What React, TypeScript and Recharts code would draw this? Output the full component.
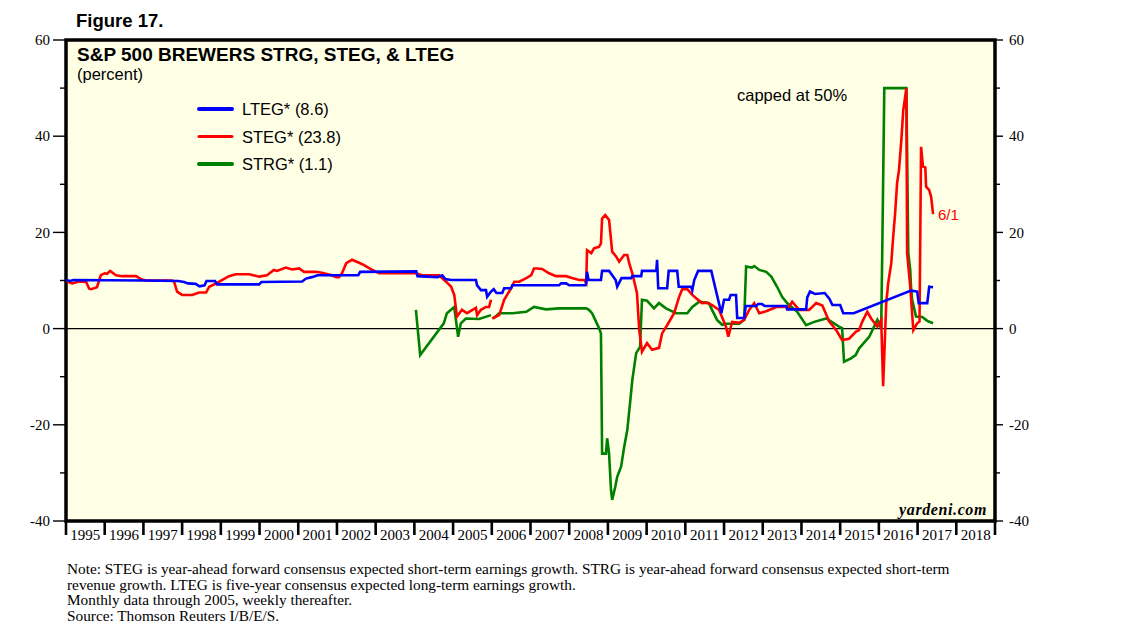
import React from 'react';
import { LineChart, Line, XAxis, YAxis, ReferenceLine, ReferenceArea, CartesianGrid, Legend } from 'recharts';

const W = 1138;
const H = 638;
const PLOT_LEFT = 66;
const PLOT_RIGHT = 995;
const PLOT_TOP = 40;
const PLOT_BOTTOM = 521;
const HALF_YEAR = (PLOT_RIGHT - PLOT_LEFT) / 24 / 2;

const SANS = '"Liberation Sans", Arial, Helvetica, sans-serif';
const SERIF = '"Liberation Serif", "Times New Roman", serif';

const yearTicks = [1995, 1996, 1997, 1998, 1999, 2000, 2001, 2002, 2003, 2004, 2005, 2006, 2007, 2008, 2009, 2010, 2011, 2012, 2013, 2014, 2015, 2016, 2017, 2018, 2019];
const valueTicks = [-40, -30, -20, -10, 0, 10, 20, 30, 40, 50, 60];
const labeledValues = [-40, -20, 0, 20, 40, 60];

type Pt = [number, number | null];

const LTEG: Pt[] = [
  [1995.0, 10.1], [1995.1, 9.9], [1995.2, 10.1], [1997.0, 10.0], [1997.9, 9.9], [1998.05, 9.7], [1998.15, 9.4],
  [1998.35, 9.3], [1998.45, 8.8], [1998.58, 9.0], [1998.63, 9.9], [1998.85, 9.9], [1998.9, 9.2], [1999.99, 9.2],
  [2000.05, 9.7], [2001.1, 9.8], [2001.2, 10.4], [2001.35, 10.7], [2001.5, 11.1], [2002.55, 11.1], [2002.6, 11.8],
  [2004.05, 11.9], [2004.08, 10.9], [2004.6, 10.7], [2004.72, 11.1], [2004.8, 10.3], [2004.95, 10.1], [2005.59, 10.1],
  [2005.62, 9.0], [2005.72, 8.0], [2005.85, 8.0], [2005.88, 6.6], [2005.98, 7.7], [2006.05, 8.2], [2006.12, 7.4],
  [2006.27, 7.4], [2006.32, 8.4], [2006.5, 8.4], [2006.53, 9.0], [2007.74, 9.0], [2007.79, 9.4], [2007.92, 9.4],
  [2008.0, 9.0], [2008.42, 9.0], [2008.44, 9.5], [2008.46, 11.8], [2008.5, 10.1], [2008.82, 10.1], [2008.85, 12.0],
  [2009.03, 12.0], [2009.2, 10.1], [2009.24, 8.7], [2009.35, 10.5], [2009.6, 10.5], [2009.63, 10.9], [2009.86, 10.9],
  [2009.88, 12.0], [2010.25, 12.0], [2010.27, 14.3], [2010.3, 8.4], [2010.53, 8.4], [2010.57, 12.0], [2010.79, 12.0],
  [2010.83, 8.7], [2011.15, 8.7], [2011.18, 8.0], [2011.23, 10.1], [2011.33, 12.0], [2011.67, 12.0], [2011.93, 3.2],
  [2012.0, 6.0], [2012.13, 6.0], [2012.17, 7.0], [2012.31, 7.0], [2012.34, 2.2], [2012.52, 2.2], [2012.56, 4.7],
  [2012.83, 4.7], [2012.88, 5.1], [2012.98, 5.1], [2013.05, 4.7], [2013.61, 4.7], [2013.63, 4.0], [2014.12, 4.0],
  [2014.15, 6.5], [2014.22, 7.7], [2014.35, 7.2], [2014.6, 7.4], [2014.72, 6.2], [2014.8, 4.9], [2015.0, 4.9],
  [2015.08, 3.2], [2015.35, 3.2], [2016.83, 7.9], [2016.99, 7.7], [2017.03, 5.3], [2017.25, 5.3], [2017.3, 8.7],
  [2017.4, 8.6],
];

const STEG: Pt[] = [
  [1995.0, 10.1], [1995.08, 9.6], [1995.16, 9.4], [1995.34, 9.8], [1995.52, 9.7], [1995.6, 8.3], [1995.65, 8.2],
  [1995.8, 8.6], [1995.9, 11.1], [1996.0, 11.5], [1996.06, 11.4], [1996.14, 12.0], [1996.29, 11.1], [1996.45, 10.9],
  [1996.81, 10.9], [1996.96, 10.2], [1997.07, 10.0], [1997.74, 10.0], [1997.79, 9.8], [1997.87, 7.7], [1998.0, 7.0],
  [1998.26, 7.0], [1998.44, 7.5], [1998.62, 7.5], [1998.7, 8.7], [1998.88, 9.4], [1999.03, 10.1], [1999.21, 10.9],
  [1999.39, 11.3], [1999.73, 11.3], [1999.99, 10.8], [2000.19, 11.1], [2000.37, 12.2], [2000.45, 12.0], [2000.68, 12.7],
  [2000.84, 12.3], [2001.02, 12.5], [2001.15, 11.8], [2001.46, 11.8], [2001.61, 11.6], [2001.87, 11.1], [2001.98, 10.7],
  [2002.05, 10.7], [2002.13, 11.5], [2002.24, 13.6], [2002.39, 14.3], [2002.57, 13.7], [2002.7, 13.2], [2002.91, 12.2],
  [2003.09, 11.5], [2003.6, 11.5], [2004.04, 11.5], [2004.2, 11.1], [2004.64, 11.1], [2004.82, 9.75], [2004.95, 8.7],
  [2005.03, 7.0], [2005.1, 2.5], [2005.23, 3.9], [2005.36, 3.2], [2005.59, 4.3], [2005.62, 2.8], [2005.72, 3.9],
  [2005.85, 4.5], [2005.93, 4.5], [2005.98, 6.0], [2005.995, null], [2006.01, 2.1], [2006.19, 2.8], [2006.32, 6.0],
  [2006.5, 8.4], [2006.58, 9.75], [2006.71, 9.75], [2006.89, 10.5], [2007.02, 11.1], [2007.09, 12.5], [2007.17, 12.5],
  [2007.3, 12.4], [2007.48, 11.5], [2007.66, 10.9], [2007.92, 10.9], [2008.07, 10.5], [2008.26, 10.1], [2008.39, 10.1],
  [2008.44, 9.5], [2008.46, 16.3], [2008.57, 15.7], [2008.64, 16.7], [2008.77, 17.0], [2008.82, 17.7], [2008.85, 22.9],
  [2008.93, 23.6], [2009.03, 22.6], [2009.11, 16.0], [2009.21, 15.0], [2009.29, 13.9], [2009.42, 15.3], [2009.5, 15.3],
  [2009.55, 13.6], [2009.63, 11.5], [2009.75, 7.4], [2009.81, -0.3], [2009.88, -4.8], [2010.01, -3.0], [2010.14, -4.4],
  [2010.32, -4.0], [2010.4, -1.0], [2010.53, 0.7], [2010.71, 3.2], [2010.84, 6.6], [2010.92, 8.2], [2011.05, 8.2],
  [2011.18, 7.0], [2011.28, 6.3], [2011.43, 5.3], [2011.56, 5.4], [2011.69, 4.9], [2011.87, 3.9], [2012.05, 0.4],
  [2012.11, -1.7], [2012.21, 1.4], [2012.39, 1.2], [2012.52, 1.8], [2012.65, 3.9], [2012.78, 5.3], [2012.91, 3.2],
  [2013.09, 3.6], [2013.35, 4.5], [2013.68, 4.5], [2013.76, 5.6], [2013.94, 3.9], [2014.2, 3.9], [2014.38, 5.3],
  [2014.54, 4.8], [2014.72, 1.4], [2014.79, 0.8], [2014.92, -0.6], [2015.05, -2.4], [2015.23, -2.1], [2015.41, -0.6],
  [2015.49, -0.3], [2015.57, 1.4], [2015.7, 3.5], [2015.8, 2.1], [2015.96, 0.4], [2016.06, 1.8], [2016.11, -12.0],
  [2016.19, 5.3], [2016.24, 9.4], [2016.32, 13.6], [2016.37, 19.1], [2016.42, 24.0], [2016.47, 30.2], [2016.52, 33.0],
  [2016.58, 39.2], [2016.63, 45.4], [2016.68, 48.2], [2016.71, 50.0], [2016.73, 15.7], [2016.81, 8.7], [2016.89, -0.3],
  [2016.99, 1.1], [2017.05, 1.5], [2017.09, 37.8], [2017.14, 33.7], [2017.2, 33.5], [2017.22, 29.5], [2017.3, 28.8],
  [2017.35, 27.4], [2017.4, 23.8],
];

const STRG: Pt[] = [
  [2004.04, 3.9], [2004.15, -5.5], [2004.76, 1.1], [2004.84, 3.2], [2005.03, 4.5], [2005.13, -1.7], [2005.2, 1.1],
  [2005.33, 2.1], [2005.67, 2.0], [2005.98, 2.8], [2005.995, null], [2006.04, 2.1], [2006.19, 3.2], [2006.53, 3.2],
  [2006.89, 3.5], [2007.09, 4.5], [2007.4, 4.0], [2007.74, 4.2], [2008.44, 4.2], [2008.51, 3.9], [2008.59, 3.2],
  [2008.77, 0.1], [2008.82, -1.0], [2008.85, -26.0], [2008.95, -26.0], [2008.98, -22.8], [2009.03, -26.0],
  [2009.08, -33.6], [2009.11, -35.6], [2009.19, -32.9], [2009.24, -30.8], [2009.34, -28.7], [2009.42, -24.6],
  [2009.5, -21.1], [2009.58, -14.8], [2009.63, -10.7], [2009.73, -5.1], [2009.83, -3.8], [2009.88, 6.0], [2010.01, 5.8],
  [2010.19, 4.2], [2010.32, 5.3], [2010.5, 4.2], [2010.58, 3.9], [2010.76, 3.2], [2011.05, 3.2], [2011.18, 4.5],
  [2011.36, 5.6], [2011.61, 5.3], [2011.69, 3.9], [2011.82, 1.8], [2011.95, 0.8], [2012.05, 1.0], [2012.39, 1.0],
  [2012.52, 1.8], [2012.57, 12.9], [2012.72, 12.7], [2012.78, 13.0], [2012.91, 12.2], [2013.09, 11.8], [2013.22, 10.8],
  [2013.37, 8.7], [2013.5, 6.6], [2013.63, 5.3], [2013.89, 3.5], [2014.12, 0.7], [2014.33, 1.4], [2014.64, 2.1],
  [2014.97, 0.4], [2015.05, 0.1], [2015.1, -6.9], [2015.28, -6.2], [2015.4, -5.5], [2015.49, -4.1], [2015.75, -1.7],
  [2015.96, 1.8], [2016.06, 0.0], [2016.09, 17.7], [2016.14, 50.0], [2016.71, 50.0], [2016.76, 15.7], [2016.81, 12.2],
  [2016.83, 8.7], [2016.86, 6.0], [2016.96, 2.5], [2017.12, 2.4], [2017.25, 1.6], [2017.4, 1.1],
];

const toRows = (pts: Pt[]) => pts.map(([t, v]) => ({ t, v }));

const series = [
  { key: 'STRG', name: 'STRG* (1.1)', color: '#008000', data: toRows(STRG), legendWidth: 4 },
  { key: 'STEG', name: 'STEG* (23.8)', color: '#FF0000', data: toRows(STEG), legendWidth: 3 },
  { key: 'LTEG', name: 'LTEG* (8.6)', color: '#0000FF', data: toRows(LTEG), legendWidth: 4 },
];
const legendOrder = ['LTEG', 'STEG', 'STRG'];

function keyOf(p: any) {
  const s = series.find((q) => q.name === p.value);
  return s ? s.key : '';
}

const LeftTick = (props: any) => {
  const { x, y, payload } = props;
  const v = payload.value;
  const major = labeledValues.includes(v);
  return (
    <g>
      <line x1={x - (major ? 13 : 6)} x2={x} y1={y} y2={y} stroke="#000" strokeWidth={1.4} />
      {major && (
        <text x={x - 16} y={y} dy="0.35em" textAnchor="end" fontFamily={SERIF} fontSize={15} fill="#000">
          {v}
        </text>
      )}
    </g>
  );
};

const RightTick = (props: any) => {
  const { x, y, payload } = props;
  const v = payload.value;
  const major = labeledValues.includes(v);
  return (
    <g>
      <line x1={x} x2={x + (major ? 8 : 5)} y1={y} y2={y} stroke="#000" strokeWidth={1.4} />
      {major && (
        <text x={x + 14} y={y} dy="0.35em" textAnchor="start" fontFamily={SERIF} fontSize={15} fill="#000">
          {v}
        </text>
      )}
    </g>
  );
};

const XTick = (props: any) => {
  const { x, y, payload } = props;
  const yr = payload.value;
  return (
    <g>
      <line x1={x} x2={x} y1={y} y2={y + 14} stroke="#000" strokeWidth={2.6} />
      {yr < 2019 && (
        <text x={x + HALF_YEAR} y={y + 19} textAnchor="middle" fontFamily={SERIF} fontSize={15} fill="#000">
          {yr}
        </text>
      )}
    </g>
  );
};

const LegendContent = (props: any) => {
  const payload = (props.payload || []).slice();
  payload.sort((a: any, b: any) => legendOrder.indexOf(keyOf(a)) - legendOrder.indexOf(keyOf(b)));
  return (
    <svg width={220} height={85} style={{ display: 'block' }}>
      {payload.map((p: any, i: number) => {
        const s = series.find((q) => q.name === p.value);
        const cy = 14 + i * 27.5;
        return (
          <g key={p.value}>
            <line x1={4} x2={37} y1={cy} y2={cy} stroke={p.color} strokeWidth={s ? s.legendWidth : 3} strokeLinecap="round" />
            <text x={47} y={cy + 6} fontFamily={SANS} fontSize={16.5} fill="#000">
              {p.value}
            </text>
          </g>
        );
      })}
    </svg>
  );
};

export default function App() {
  return (
    <div style={{ position: 'absolute', left: 0, top: 0, width: W, height: H, background: '#fff' }}>
      <LineChart
        width={W}
        height={H}
        margin={{ top: PLOT_TOP, left: PLOT_LEFT - 30, right: W - PLOT_RIGHT - 40, bottom: H - PLOT_BOTTOM - 20 }}
      >
        <CartesianGrid horizontal={false} vertical={false} fill="#FFFFE6" fillOpacity={1} />
        <XAxis
          dataKey="t"
          type="number"
          domain={[1995, 2019]}
          ticks={yearTicks}
          allowDataOverflow
          height={20}
          tickSize={0}
          tickMargin={0}
          axisLine={false}
          tickLine={false}
          tick={<XTick />}
          interval={0}
        />
        <YAxis
          yAxisId="left"
          type="number"
          domain={[-40, 60]}
          ticks={valueTicks}
          allowDataOverflow
          width={30}
          tickSize={0}
          tickMargin={0}
          axisLine={false}
          tickLine={false}
          tick={<LeftTick />}
          interval={0}
        />
        <YAxis
          yAxisId="right"
          orientation="right"
          type="number"
          domain={[-40, 60]}
          ticks={valueTicks}
          allowDataOverflow
          width={40}
          tickSize={0}
          tickMargin={0}
          axisLine={false}
          tickLine={false}
          tick={<RightTick />}
          interval={0}
        />
        <ReferenceLine yAxisId="left" y={0} stroke="#000" strokeWidth={1.3} />
        {series.map((s) => (
          <Line
            key={s.key}
            yAxisId="left"
            data={s.data}
            dataKey="v"
            name={s.name}
            type="linear"
            stroke={s.color}
            strokeWidth={2.6}
            dot={false}
            activeDot={false}
            connectNulls={false}
            isAnimationActive={false}
          />
        ))}
        <ReferenceArea
          yAxisId="left"
          x1={1995}
          x2={2019}
          y1={-40}
          y2={60}
          fill="none"
          fillOpacity={0}
          stroke="#000"
          strokeWidth={3.5}
        />
        <Legend
          layout="vertical"
          align="center"
          verticalAlign="middle"
          content={<LegendContent />}
          wrapperStyle={{ position: 'absolute', left: 195, top: 95, width: 220, height: 85 }}
        />
      </LineChart>
      <svg
        width={W}
        height={H}
        style={{ position: 'absolute', left: 0, top: 0, pointerEvents: 'none' }}
      >
        <text x={76} y={27} fontFamily={SANS} fontWeight="bold" fontSize={18.5} fill="#000">Figure 17.</text>
        <text x={77} y={61} fontFamily={SANS} fontWeight="bold" fontSize={19} fill="#000">S&amp;P 500 BREWERS STRG, STEG, &amp; LTEG</text>
        <text x={77} y={80} fontFamily={SANS} fontSize={16.5} fill="#000">(percent)</text>
        <text x={737} y={101} fontFamily={SANS} fontSize={16.5} fill="#000">capped at 50%</text>
        <text x={938} y={220} fontFamily={SANS} fontSize={15} fill="#FF0000">6/1</text>
        <text x={987} y={515} textAnchor="end" fontFamily={SERIF} fontStyle="italic" fontWeight="bold" fontSize={16} letterSpacing={0.6} fill="#000">yardeni.com</text>
        <text fontFamily={SERIF} fontSize={15.3} fill="#000">
          <tspan x={67} y={574}>Note: STEG is year-ahead forward consensus expected short-term earnings growth. STRG is year-ahead forward consensus expected short-term</tspan>
          <tspan x={67} y={589.5}>revenue growth. LTEG is five-year consensus expected long-term earnings growth.</tspan>
          <tspan x={67} y={605}>Monthly data through 2005, weekly thereafter.</tspan>
          <tspan x={67} y={620.5}>Source: Thomson Reuters I/B/E/S.</tspan>
        </text>
      </svg>
    </div>
  );
}
